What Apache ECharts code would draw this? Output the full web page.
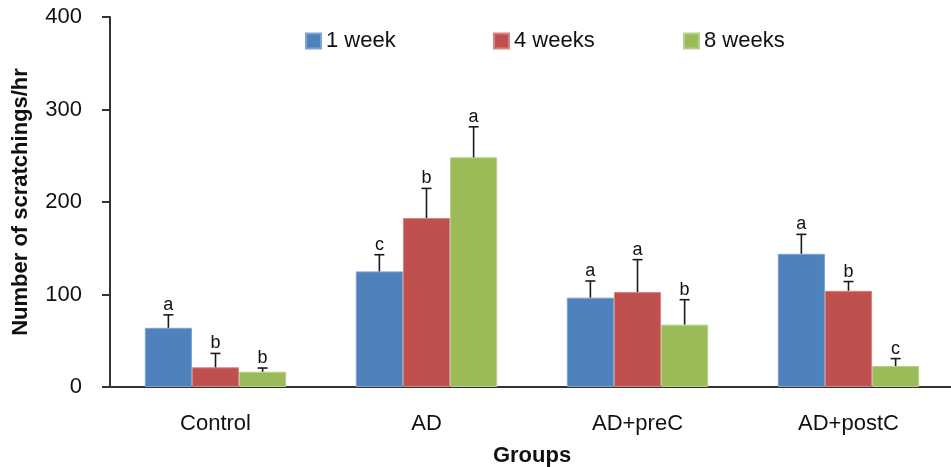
<!DOCTYPE html>
<html>
<head>
<meta charset="utf-8">
<script src="https://cdn.jsdelivr.net/npm/echarts@6/dist/echarts.min.js"></script>
<style>
  html, body { margin: 0; padding: 0; background: #fff; }
  #chart { width: 951px; height: 467px; }
</style>
</head>
<body>
<div id="chart"></div>
<script>
// Donnees
const categories = ['Control', 'AD', 'AD+preC', 'AD+postC'];
const seriesNames = ['1 week', '4 weeks', '8 weeks'];
const week1 = [64, 125, 96.6, 144];
const week4 = [21.3, 182.7, 102.7, 104];
const week8 = [16.5, 248.3, 67.4, 22.7];
const err1 = [14, 18, 18, 21];
const err4 = [15, 32, 35, 10];
const err8 = [4, 33, 27, 8];
const letters1 = ['a', 'c', 'a', 'a'];
const letters4 = ['b', 'b', 'a', 'b'];
const letters8 = ['b', 'a', 'b', 'c'];
const yTicks = [0, 100, 200, 300, 400];

const colors = ['#4F81BD', '#C0504D', '#9BBB59'];
const borders = ['#7FA3CF', '#D58583', '#B8CF8A'];
const legendLeft = [305, 493, 683];
const values = [week1, week4, week8];
const errors = [err1, err4, err8];
const letters = [letters1, letters4, letters8];
const catGap = 0.33;

const chart = echarts.init(document.getElementById('chart'), null, { renderer: 'canvas' });

// Barres d'erreur + lettres, une serie custom par semaine
function errorSeries(k) {
    return {
        type: 'custom',
        name: seriesNames[k] + ' err',
        z: 5,
        encode: { x: 0, y: 1 },
        data: categories.map((c, i) => [i, values[k][i], errors[k][i]]),
        renderItem: function (params, api) {
            const idx = api.value(0);
            const v = api.value(1);
            const sd = api.value(2);
            const band = api.size([1, 0])[0];
            const barW = band * (1 - catGap) / 3;
            const base = api.coord([idx, v]);
            const x = base[0] + (k - 1) * barW;
            const yTop = base[1];
            const yErr = api.coord([idx, v + sd])[1];
            const style = { stroke: '#1a1a1a', lineWidth: 1.6 };
            return {
                type: 'group',
                children: [
                    { type: 'line', shape: { x1: x, y1: yTop, x2: x, y2: yErr }, style: style },
                    { type: 'line', shape: { x1: x - 5, y1: yErr, x2: x + 5, y2: yErr }, style: style },
                    {
                        type: 'text',
                        style: {
                            text: letters[k][params.dataIndex],
                            x: x, y: yErr - 1,
                            textAlign: 'center', textVerticalAlign: 'bottom',
                            fontFamily: 'Liberation Sans', fontSize: 18, fill: '#111'
                        }
                    }
                ]
            };
        }
    };
}

const option = {
    animation: false,
    textStyle: { fontFamily: 'Liberation Sans' },
    legend: seriesNames.map((n, k) => ({
        data: [n],
        left: legendLeft[k],
        top: 30,
        padding: 0,
        icon: 'rect',
        itemWidth: 15,
        itemHeight: 15,
        itemGap: 6,
        textStyle: { fontSize: 22, color: '#111' }
    })),
    grid: { left: 110, top: 17, height: 370, width: 844, outerBoundsMode: 'none', containLabel: false },
    xAxis: {
        type: 'category',
        data: categories,
        name: 'Groups',
        nameLocation: 'middle',
        nameGap: 58,
        nameTextStyle: { fontSize: 22, fontWeight: 'bold', color: '#111' },
        axisLine: { lineStyle: { color: '#333', width: 2 } },
        axisTick: { show: false },
        axisLabel: { fontSize: 22, color: '#111', margin: 26 }
    },
    yAxis: {
        type: 'value',
        min: 0,
        max: 400,
        interval: 100,
        name: 'Number of scratchings/hr',
        nameLocation: 'middle',
        nameGap: 78,
        nameTextStyle: { fontSize: 22, fontWeight: 'bold', color: '#111' },
        splitLine: { show: false },
        axisLine: { show: true, lineStyle: { color: '#333', width: 2 } },
        axisTick: { show: true, length: 8, lineStyle: { color: '#333', width: 2 } },
        axisLabel: {
            fontSize: 22, color: '#111', margin: 28,
            formatter: function (v) { return yTicks.indexOf(v) >= 0 ? String(v) : ''; }
        }
    },
    series: seriesNames.map((n, k) => ({
        name: n,
        type: 'bar',
        barGap: '0%',
        barCategoryGap: (catGap * 100) + '%',
        itemStyle: { color: colors[k], borderColor: borders[k], borderWidth: 1 },
        data: values[k]
    })).concat([0, 1, 2].map(errorSeries))
};

chart.setOption(option);
window.addEventListener('resize', chart.resize);
</script>
</body>
</html>
